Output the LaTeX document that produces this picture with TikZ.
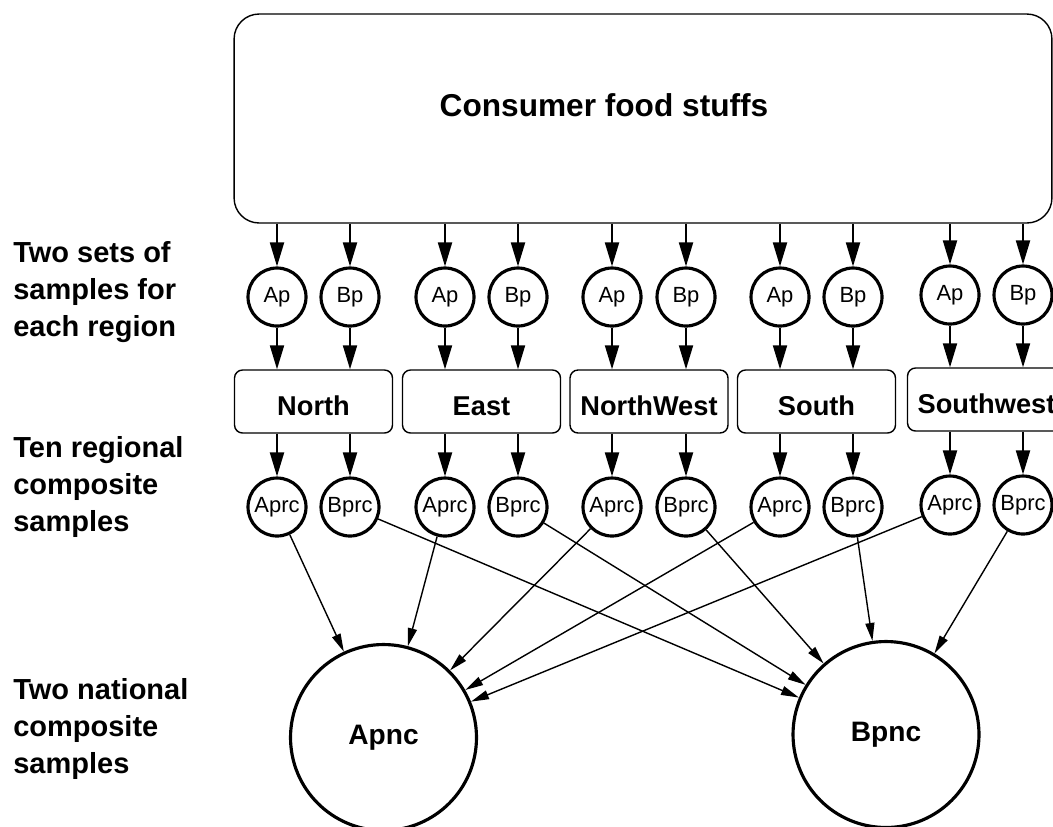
\documentclass[tikz,border=0pt]{standalone}
\usepackage{fontspec}
\setmainfont{Liberation Sans}
\usetikzlibrary{arrows.meta}

\begin{document}
\begin{tikzpicture}[x=0.02cm,y=-0.02cm]
      \tikzstyle{sample}=[draw,circle,line width=1.8pt,minimum size=1.16cm,
			  inner sep=0pt,font=\fontsize{12.5}{14}\selectfont]
      \tikzstyle{national}=[draw,circle,line width=1.8pt,minimum size=3.72cm,
			  inner sep=0pt,font=\fontsize{16}{19}\selectfont\bfseries]
      \tikzstyle{region}=[draw,rounded corners=0.16cm,line width=0.8pt,
			  minimum width=3.16cm,minimum height=1.26cm,inner sep=0pt,
			  text height=0.54cm,text depth=0pt,
			  font=\fontsize{15.5}{18}\selectfont\bfseries]
      \tikzstyle{heading}=[anchor=west,align=left,inner sep=0pt,
			  font=\fontsize{16.5}{21}\selectfont\bfseries]
      \tikzstyle{feed}=[line width=1.1pt,-{Triangle[length=0.48cm,width=0.28cm]}]
      \tikzstyle{merge}=[line width=0.8pt,-{Triangle[length=0.36cm,width=0.18cm]}]
      \useasboundingbox (0,0) rectangle (1053,826);
      \clip (0,0) rectangle (1053,826);

      \node (food) [draw,rounded corners=0.5cm,line width=0.8pt,minimum width=16.36cm,minimum height=4.18cm,
	  label={[font=\fontsize{18}{22}\selectfont\bfseries,xshift=-0.78cm,yshift=0.27cm]center:Consumer food stuffs}]
	  at (643,118.5) {};

      \node (sets) [heading] at (13,292) {Two sets of\\samples for\\each region};
      \node (composites) [heading] at (13,487) {Ten regional\\composite\\samples};
      \node (nationals) [heading] at (13,729) {Two national\\composite\\samples};

      % regions
      \node (north) [region] at (313.5,401.5) {North};
      \node (east) [region] at (481.5,401.5) {East};
      \node (northwest) [region] at (649,401.5) {NorthWest};
      \node (south) [region] at (816.5,401.5) {South};
      \node (southwest) [region] at (986.5,399.5) {Southwest};

      % samples per region
      \node (ap1) [sample] at (277,297) {Ap};
      \node (bp1) [sample] at (350,297) {Bp};
      \node (ap2) [sample] at (445,297) {Ap};
      \node (bp2) [sample] at (518,297) {Bp};
      \node (ap3) [sample] at (612,297) {Ap};
      \node (bp3) [sample] at (686,297) {Bp};
      \node (ap4) [sample] at (780,297) {Ap};
      \node (bp4) [sample] at (853,297) {Bp};
      \node (ap5) [sample] at (950,295) {Ap};
      \node (bp5) [sample] at (1023,295) {Bp};

      \node (aprc1) [sample] at (277,507) {Aprc};
      \node (bprc1) [sample] at (350,507) {Bprc};
      \node (aprc2) [sample] at (445,507) {Aprc};
      \node (bprc2) [sample] at (518,507) {Bprc};
      \node (aprc3) [sample] at (612,507) {Aprc};
      \node (bprc3) [sample] at (686,507) {Bprc};
      \node (aprc4) [sample] at (780,507) {Aprc};
      \node (bprc4) [sample] at (853,507) {Bprc};
      \node (aprc5) [sample] at (950,505) {Aprc};
      \node (bprc5) [sample] at (1023,505) {Bprc};

      \node (apnc) [national] at (383.5,737.5) {Apnc};
      \node (bpnc) [national] at (886,734.5) {Bpnc};

      \path (food.south -| ap1) edge[feed] (ap1) (ap1) edge[feed] (ap1 |- north.north)
	  (ap1 |- north.south) edge[feed] (aprc1) (aprc1) edge[merge] (apnc);
      \path (food.south -| bp1) edge[feed] (bp1) (bp1) edge[feed] (bp1 |- north.north)
	  (bp1 |- north.south) edge[feed] (bprc1) (bprc1) edge[merge] (bpnc);
      \path (food.south -| ap2) edge[feed] (ap2) (ap2) edge[feed] (ap2 |- east.north)
	  (ap2 |- east.south) edge[feed] (aprc2) (aprc2) edge[merge] (apnc);
      \path (food.south -| bp2) edge[feed] (bp2) (bp2) edge[feed] (bp2 |- east.north)
	  (bp2 |- east.south) edge[feed] (bprc2) (bprc2) edge[merge] (bpnc);
      \path (food.south -| ap3) edge[feed] (ap3) (ap3) edge[feed] (ap3 |- northwest.north)
	  (ap3 |- northwest.south) edge[feed] (aprc3) (aprc3) edge[merge] (apnc);
      \path (food.south -| bp3) edge[feed] (bp3) (bp3) edge[feed] (bp3 |- northwest.north)
	  (bp3 |- northwest.south) edge[feed] (bprc3) (bprc3) edge[merge] (bpnc);
      \path (food.south -| ap4) edge[feed] (ap4) (ap4) edge[feed] (ap4 |- south.north)
	  (ap4 |- south.south) edge[feed] (aprc4) (aprc4) edge[merge] (apnc);
      \path (food.south -| bp4) edge[feed] (bp4) (bp4) edge[feed] (bp4 |- south.north)
	  (bp4 |- south.south) edge[feed] (bprc4) (bprc4) edge[merge] (bpnc);
      \path (food.south -| ap5) edge[feed] (ap5) (ap5) edge[feed] (ap5 |- southwest.north)
	  (ap5 |- southwest.south) edge[feed] (aprc5) (aprc5) edge[merge] (apnc);
      \path (food.south -| bp5) edge[feed] (bp5) (bp5) edge[feed] (bp5 |- southwest.north)
	  (bp5 |- southwest.south) edge[feed] (bprc5) (bprc5) edge[merge] (bpnc);
  \end{tikzpicture}
\end{document}
